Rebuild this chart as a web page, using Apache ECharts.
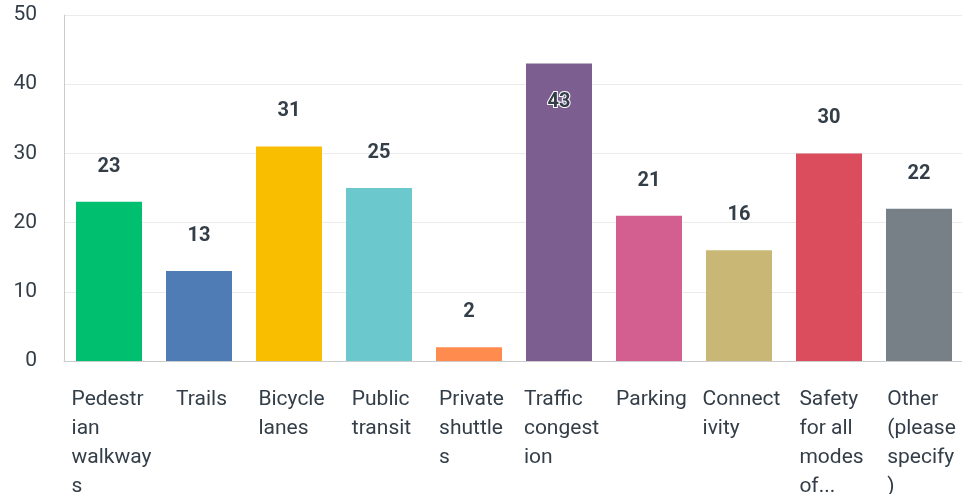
<!DOCTYPE html>
<html>
<head>
<meta charset="utf-8">
<script src="https://cdn.jsdelivr.net/npm/echarts@6/dist/echarts.min.js"></script>
<style>
  html, body { margin: 0; padding: 0; background: #fff; }
  #chart { width: 962px; height: 494px; }
</style>
</head>
<body>
<div id="chart"></div>
<script>
const categories = [
  'Pedestrian walkways', 'Trails', 'Bicycle lanes', 'Public transit',
  'Private shuttles', 'Traffic congestion', 'Parking', 'Connectivity',
  'Safety for all modes of transportation', 'Other (please specify)'
];
const responses = [23, 13, 31, 25, 2, 43, 21, 16, 30, 22];
const barColors = [
  '#00BF6F', '#507CB6', '#F9BE00', '#6BC8CD', '#FF8B4F',
  '#7D5E90', '#D25F90', '#C9B875', '#DB4D5C', '#768086'
];
const yTicks = { min: 0, max: 50, interval: 10 };

const FONT = 'Roboto';
const TEXT = '#333e48';
const LABEL_SIZE = 21;
const MAX_CHARS = 7;   // characters per category line
const MAX_LINES = 4;

// Greedy word wrap by character count; long words are split, extra lines cut with an ellipsis.
function wrapLabel(text) {
  const lines = [];
  let cur = '';
  text.split(' ').forEach(word => {
    let w = word;
    const candidate = cur ? cur + ' ' + w : w;
    if (candidate.length <= MAX_CHARS) { cur = candidate; return; }
    if (cur) { lines.push(cur); cur = ''; }
    while (w.length > MAX_CHARS) {
      lines.push(w.slice(0, MAX_CHARS));
      w = w.slice(MAX_CHARS);
    }
    cur = w;
  });
  if (cur) lines.push(cur);
  if (lines.length > MAX_LINES) {
    const kept = lines.slice(0, MAX_LINES);
    kept[MAX_LINES - 1] += '...';
    return kept;
  }
  return lines;
}

const chart = echarts.init(document.getElementById('chart'), null, { renderer: 'canvas' });

const data = responses.map((v, i) => {
  const item = { value: v, itemStyle: { color: barColors[i] } };
  if (v >= 40) {
    // tall bar: keep the value label inside near its top
    item.label = {
      position: 'insideTop', distance: 29,
      textBorderColor: '#fff', textBorderWidth: 2
    };
  }
  return item;
});

chart.setOption({
  animation: false,
  grid: {
    left: 64, right: -2, top: 15, bottom: 133,
    containLabel: false, outerBoundsMode: 'none'
  },
  xAxis: {
    type: 'category',
    data: categories,
    axisTick: { show: false },
    axisLine: { lineStyle: { color: '#cccccc', width: 1 } },
    axisLabel: {
      interval: 0,
      margin: 24,
      padding: [0, 0, 0, 5],
      fontFamily: FONT,
      fontSize: LABEL_SIZE,
      color: TEXT,
      lineHeight: 29,
      verticalAlign: 'top',
      // block centred under the bar, its lines flush left
      formatter: value => wrapLabel(value).map(l => '{t|' + l + '}').join('\n'),
      rich: {
        t: {
          align: 'left',
          fontFamily: FONT,
          fontSize: LABEL_SIZE,
          color: TEXT,
          lineHeight: 29
        }
      }
    }
  },
  yAxis: {
    type: 'value',
    min: yTicks.min,
    max: yTicks.max,
    interval: yTicks.interval,
    axisLine: { show: true, lineStyle: { color: '#cccccc', width: 1 } },
    axisTick: { show: false },
    splitLine: { lineStyle: { color: '#ebebeb', width: 1 } },
    axisLabel: {
      margin: 27, padding: [5, 0, 0, 0],
      fontFamily: FONT, fontSize: LABEL_SIZE, color: TEXT
    }
  },
  series: [{
    type: 'bar',
    data: data,
    barWidth: 66,
    label: {
      show: true,
      position: 'top',
      distance: 25,
      fontFamily: FONT,
      fontSize: 20,
      fontWeight: 'bold',
      color: TEXT
    }
  }]
});
</script>
</body>
</html>
